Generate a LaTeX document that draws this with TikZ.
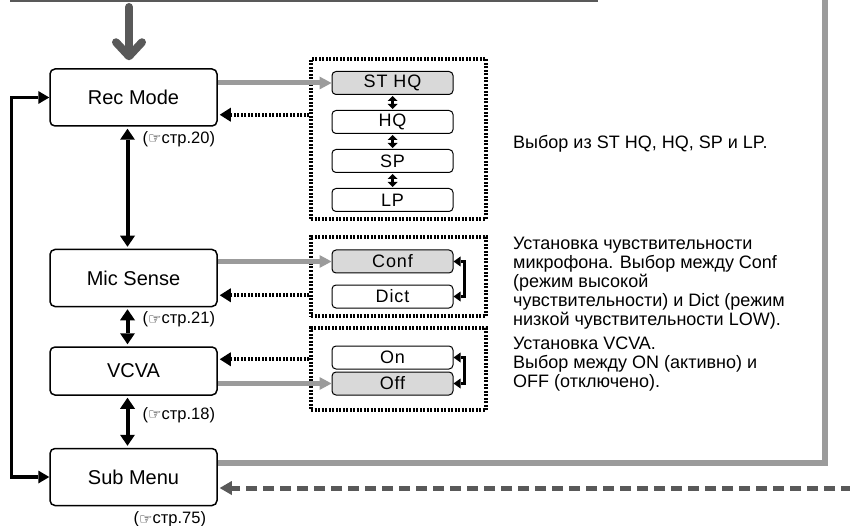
\documentclass[tikz,border=0pt]{standalone}
\usepackage{fontspec}
\setmainfont{Liberation Sans}
\newfontfamily\symfont{DejaVu Sans}
\newfontfamily\optfont[LetterSpace=5]{Liberation Sans}
\usetikzlibrary{arrows.meta,positioning}
\definecolor{lgray}{HTML}{9B9B9B}
\definecolor{dgray}{HTML}{595959}
\definecolor{sel}{HTML}{D9D9D9}
\newcommand{\pref}[1]{(\raisebox{-0.5pt}{\symfont\fontsize{15}{15}\selectfont ☞}стр.#1)}
\tikzset{
mbox/.style={draw, line width=1.5pt, rounded corners=5pt, fill=white, minimum width=167pt, minimum height=57pt, font=\fontsize{20}{22}\selectfont},
obox/.style={draw, line width=1pt, rounded corners=4pt, minimum width=121pt, minimum height=23pt, inner sep=0pt, font=\optfont\fontsize{18}{19}\selectfont},
frame/.style={draw, line width=3.5pt, dash pattern=on 2pt off 1.5pt, minimum width=175pt, inner sep=0pt},
note/.style={anchor=west, align=left, inner sep=0pt, font=\fontsize{18}{19}\selectfont},
ref/.style={anchor=west, inner sep=0pt, font=\fontsize{16.5}{18}\selectfont},
garr/.style={draw=lgray, line width=5pt, -{Triangle[length=12pt,width=13pt,line width=0pt]}},
darr/.style={line width=4pt, dash pattern=on 2pt off 1.5pt, -{Triangle[length=11pt,width=14pt,line width=0pt]}, shorten >=2pt},
barr/.style={line width=4pt, {Triangle[length=11pt,width=15pt,line width=0pt]}-{Triangle[length=11pt,width=15pt,line width=0pt]}, shorten <=2pt, shorten >=2pt},
backline/.style={line width=3.5pt, {Triangle[length=11pt,width=13pt,line width=0pt]}-{Triangle[length=11pt,width=13pt,line width=0pt]}},
sarr/.style={line width=2.5pt, {Triangle[length=5pt,width=10pt,line width=0pt]}-{Triangle[length=5pt,width=10pt,line width=0pt]}, shorten <=1pt, shorten >=1pt},
brk/.style={line width=3pt, {Triangle[length=7pt,width=10pt,line width=0pt]}-{Triangle[length=7pt,width=10pt,line width=0pt]}},
gline/.style={draw=lgray, line width=6pt},
dasharr/.style={draw=dgray, line width=5pt, dash pattern=on 11pt off 6pt, -{Triangle[length=12pt,width=14pt,line width=0pt]}, shorten >=2pt}
}
\begin{document}
\begin{tikzpicture}[x=1pt, y=-1pt]
\useasboundingbox (0,0) rectangle (850,526);
% menu column
\node[mbox] (rec) at (133.5,97.5) {Rec Mode};
\node[mbox, below=122pt of rec] (mic) {Mic Sense};
\node[mbox, minimum height=48pt, below=39pt of mic] (vcva) {VCVA};
\node[mbox, below=52pt of vcva] (sub) {Sub Menu};
% option frames
\node[frame, minimum height=160pt] (fr1) at (398.5,139) {};
\node[frame, minimum height=79pt] (fr2) at (398.5,276.5) {};
\node[frame, minimum height=82pt] (fr3) at (398.5,369) {};
\node[obox, fill=sel] (sthq) at (392.5,83) {ST HQ};
\node[obox, below=15pt of sthq] (hq) {HQ};
\node[obox, below=15pt of hq] (sp) {SP};
\node[obox, below=15pt of sp] (lp) {LP};
\node[obox, fill=sel] (conf) at (392.5,261.5) {Conf};
\node[obox, below=11pt of conf] (dict) {Dict};
\node[obox] (on) at (392.5,357.5) {On};
\node[obox, fill=sel, below=2pt of on] (off) {Off};
% notes
\node[note] (n1) at (513,144) {Выбор из ST HQ, HQ, SP и LP.};
\node[note] (n2) at (513,283) {Установка чувствительности\\микрофона. Выбор между Conf\\(режим высокой\\чувствительности) и Dict (режим\\низкой чувствительности LOW).};
\node[note] (n3) at (513,364) {Установка VCVA.\\Выбор между ON (активно) и\\OFF (отключено).};
% page references
\node[ref] (rref) at ([xshift=9pt,yshift=-12pt]rec.south) {\pref{20}};
\node[ref] (mref) at ([xshift=9pt,yshift=-12pt]mic.south) {\pref{21}};
\node[ref] (vref) at ([xshift=9pt,yshift=-19pt]vcva.south) {\pref{18}};
\node[ref] (sref) at ([xshift=0pt,yshift=-13pt]sub.south) {\pref{75}};
% entry from above
\coordinate (tl) at (10,1.5);
\coordinate (tr) at (598,1.5);
\coordinate (tin) at (129,7);
\draw[line width=2pt, dgray] (tl) -- (tr);
\draw[dgray, line width=8pt, line cap=round, -{Straight Barb[round,length=14pt,width=26pt]}, shorten >=8pt] (tin) -- (tin |- rec.north);
% selections
\draw[garr] (rec.east |- sthq.west) -- (sthq.west);
\draw[garr] (mic.east |- conf.west) -- (conf.west);
\draw[garr] (vcva.east |- off.west) -- (off.west);
\coordinate (recback) at ([yshift=12pt]rec.south east);
\coordinate (micback) at ([yshift=12pt]mic.south east);
\coordinate (vcvaback) at ([yshift=-13pt]vcva.north east);
\draw[darr] (fr1.west |- recback) -- (recback);
\draw[darr] (fr2.west |- micback) -- (micback);
\draw[darr] (fr3.west |- vcvaback) -- (vcvaback);
\foreach \a/\b in {sthq/hq, hq/sp, sp/lp}
\draw[sarr] (\a.south) -- (\b.north);
\draw[brk] (conf.east) -- ++(11pt,0) |- (dict.east);
\draw[brk] (on.east) -- ++(11pt,0) |- (off.east);
% moving between menus
\foreach \a/\b in {rec/mic, mic/vcva, vcva/sub}
\draw[barr] ([xshift=-6pt]\a.south) -- ([xshift=-6pt]\b.north);
\draw[backline] (rec.west) -- ++(-38pt,0) |- (sub.west);
% sub menu links
\coordinate (topr) at (825,0);
\coordinate (rin) at (852,488);
\draw[gline] ([yshift=-15pt]sub.north east) -| (topr);
\draw[dasharr] (rin) -- (rin -| sub.east);
\end{tikzpicture}
\end{document}
